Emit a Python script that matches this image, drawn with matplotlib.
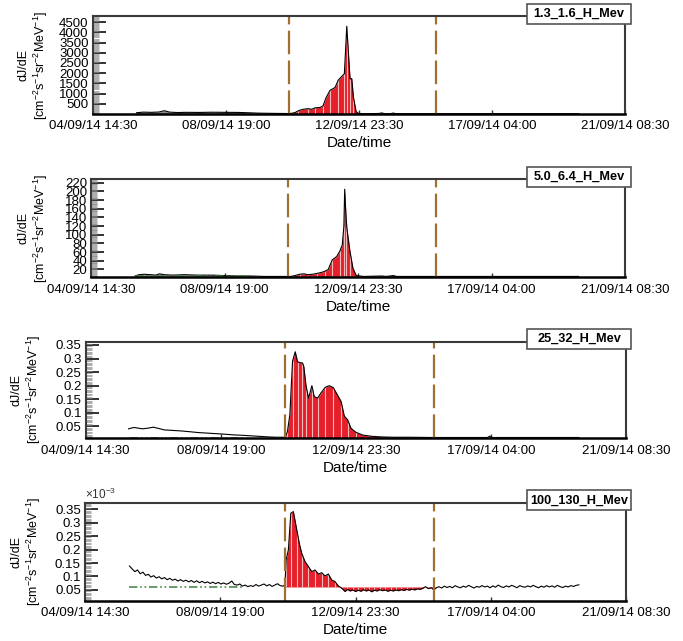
import numpy as np
import matplotlib
matplotlib.use('Agg')
import matplotlib.pyplot as plt
import matplotlib.transforms as mtransforms
from matplotlib.patches import Rectangle
from matplotlib.ticker import MultipleLocator

plt.rcParams['font.family'] = ['Liberation Sans', 'DejaVu Sans']
plt.rcParams['mathtext.fontset'] = 'custom'
plt.rcParams['mathtext.rm'] = 'Liberation Sans'
plt.rcParams['mathtext.it'] = 'Liberation Sans:italic'
plt.rcParams['lines.scale_dashes'] = False

# time axis: hours since 04/09/14 14:30
xtick_hours = [0, 100.5, 201, 301.5, 402]
xtick_labels = ['04/09/14 14:30', '08/09/14 19:00', '12/09/14 23:30',
                '17/09/14 04:00', '21/09/14 08:30']
event_start, event_end = 148.5, 259.5
bg_start, bg_end = 33, 117

channels = ['1.3_1.6_H_Mev', '5.0_6.4_H_Mev', '25_32_H_Mev', '100_130_H_Mev']

# 1.3-1.6 MeV
h1 = [33, 38, 44, 50, 54, 58, 64, 70, 80, 90, 100, 110, 117, 125, 135, 143, 148.5, 150,
      152.8, 155.3, 158.8, 162.6, 165.4, 167.9, 171.7, 173.9, 176.2, 179.2, 183.0, 185.3,
      188.1, 190.0, 190.9, 191.8, 193.1, 194.3, 195.6, 196.8, 198.9, 200.6, 204.2, 210,
      216, 218.3, 220.5, 225, 226.8, 229, 240, 259.5, 270, 300, 330, 367]
f1 = [60, 90, 80, 95, 160, 90, 70, 80, 75, 85, 80, 75, 60, 40, 30, 25, 20, 30,
      70, 160, 230, 260, 230, 300, 320, 400, 800, 1160, 1300, 1650,
      1850, 1970, 3100, 4300, 2950, 1730, 1730, 840, 110, 30, 15, 15,
      25, 50, 15, 15, 45, 15, 15, 15, 15, 15, 15, 15]
bg1 = 20
yticks1 = [500, 1000, 1500, 2000, 2500, 3000, 3500, 4000, 4500]

# 5.0-6.4 MeV
h2 = [33, 36, 40, 45, 48.5, 51.5, 55, 61.4, 70, 80, 90.8, 100, 110, 120, 130, 140,
      148.5, 150.4, 153.5, 157, 160.3, 163, 166.8, 170, 173.2, 176, 178.5, 181.5,
      184.9, 187.2, 189.1, 190.3, 190.9, 191.6, 192.5, 194.8, 197.1, 199.6, 205,
      219.3, 222, 227.6, 230, 259.5, 280, 320, 367]
f2 = [5, 8, 9, 8, 7, 10, 8, 7, 8, 7, 7, 6, 5, 5, 4, 4,
      4, 4, 6, 9, 10, 8, 9, 11, 13, 16, 20, 42,
      50, 62, 77, 120, 205, 160, 116, 63, 23, 6, 4,
      5, 4, 6, 4, 4, 4, 4, 4]
bg2 = 4
yticks2 = [20, 40, 60, 80, 100, 120, 140, 160, 180, 200, 220]

# 25-32 MeV
h3 = [31.9, 35.8, 42.3, 47, 50.4, 53.7, 58.5, 65, 71.6, 78, 84.3, 91, 97.5, 104, 110.4,
      117, 123.5, 130, 136.5, 142, 146.2, 148.5, 150.1, 151.9, 153.9, 155.9, 157.6,
      160.1, 161.3, 162.3, 163.9, 165.8, 168.3, 170.0, 172.5, 175.0, 178.2, 181.2,
      184.2, 187.4, 190.0, 192.4, 194.9, 197.4, 201.1, 206.1, 213.5, 221.0, 228.4,
      240, 258.3, 263, 280, 299, 300.6, 302, 330, 367]
f3 = [0.041, 0.046, 0.041, 0.044, 0.047, 0.043, 0.037, 0.035, 0.033, 0.030, 0.027, 0.025,
      0.023, 0.021, 0.0185, 0.017, 0.015, 0.013, 0.011, 0.010, 0.010, 0.010, 0.031, 0.093,
      0.29, 0.325, 0.288, 0.284, 0.284, 0.27, 0.20, 0.154, 0.20, 0.16, 0.154, 0.173, 0.194,
      0.20, 0.193, 0.165, 0.142, 0.088, 0.074, 0.043, 0.028, 0.018, 0.013, 0.011, 0.010,
      0.010, 0.009, 0.009, 0.009, 0.009, 0.014, 0.009, 0.009, 0.009]
bg3 = 0.008
yticks3 = [0.05, 0.1, 0.15, 0.2, 0.25, 0.3, 0.35]

# 100-130 MeV (x 1e-3)
h4 = [33, 35, 37, 39, 41, 43, 45, 47, 49, 51, 53, 55, 57, 59, 61, 63, 65, 67, 69, 71,
      73, 75, 77, 79, 81, 83, 85, 87, 89, 91, 93, 95, 97, 99, 101, 103, 105, 107, 109, 111,
      113, 115, 117, 119, 121, 123, 125, 127, 129, 131, 133, 135, 137, 139, 141, 143, 145, 147,
      148.6, 149.4, 151.1, 152.9, 154.8, 157.3, 159.2, 161.0, 163.5, 165.9, 168.5, 170.9,
      173.4, 175.9, 178.3, 180.8, 183.3, 185.7, 188.2, 190.8, 193.2, 195, 197, 199, 201, 203,
      205, 207, 209, 211, 213, 215, 217, 219, 221, 223, 225, 227, 229, 231, 233, 235, 237,
      239, 241, 243, 245, 247, 249, 251, 253, 255, 257.6, 259,
      261, 263, 265, 267, 269, 271, 273, 275, 277, 279, 281, 283, 285, 287, 289, 291, 293,
      295, 297, 299, 301, 303, 305, 307, 309, 311, 313, 315, 317, 319, 321, 323, 325, 327,
      329, 331, 333, 335, 337, 339, 341, 343, 345, 347, 349, 351, 353, 355, 357, 359, 361,
      363, 365, 367]
f4 = [.139, .128, .118, .124, .110, .116, .104, .108, .098, .103,
      .094, .099, .091, .096, .088, .093, .086, .090, .083, .088,
      .082, .086, .080, .085, .078, .084, .077, .082, .076, .080,
      .074, .079, .073, .078, .072, .076, .071, .075, .083, .070,
      .068, .072, .064, .068, .062, .066, .063, .070, .064, .068,
      .072, .065, .070, .063, .068, .073, .066, .064,
      .069, .161, .199, .335, .341, .273, .223, .186, .155, .137, .118, .124,
      .109, .114, .102, .109, .087, .081, .065, .056, .044, .052, .046, .050, .044, .049,
      .045, .051, .046, .050, .043, .049, .046, .051, .047, .050, .045, .049, .046, .050,
      .047, .051, .048, .052, .049, .053, .050, .054, .052, .056, .062, .055, .058, .050,
      .058, .062, .057, .064, .059, .063, .058, .066, .061, .058, .064, .060, .067, .062,
      .057, .063, .060, .066, .061, .064, .058, .065, .060, .068, .062, .059, .065, .061,
      .067, .063, .058, .066, .062, .060, .065, .061, .067, .062, .058, .064, .060, .066,
      .061, .065, .060, .067, .062, .059, .064, .061, .066, .063, .067, .069]
bg4 = 0.061
yticks4 = [0.05, 0.1, 0.15, 0.2, 0.25, 0.3, 0.35]

series = [(h1, f1, bg1, yticks1, (0, 4780), True),
          (h2, f2, bg2, yticks2, (2, 228), True),
          (h3, f3, bg3, yticks3, (0.006, 0.362), False),
          (h4, f4, bg4, yticks4, (0.010, 0.373), False)]

# axes boxes in figure fraction
boxes = [[0.1359, 0.8222, 0.7792, 0.1521],
         [0.1335, 0.5674, 0.7816, 0.1529],
         [0.1255, 0.3162, 0.7910, 0.1507],
         [0.1245, 0.0629, 0.7921, 0.1524]]
label_x = [0.0732, 0.0732, 0.0635, 0.0635]

W, H = 683, 641
fig = plt.figure(figsize=(6.83, 6.41), dpi=100)
red = '#e6202a'
brown = '#a26f33'

for i, (h, f, bg, yt, ylim, gray_pre) in enumerate(series):
    ax = fig.add_axes(boxes[i])
    h = np.array(h)
    f = np.array(f)
    in_event = (h >= event_start) & (h <= event_end)

    if gray_pre:
        pre = (h >= bg_start) & (h <= bg_end)
        ax.fill_between(h, f, bg, where=pre, color='0.55', lw=0, interpolate=True)
    ax.fill_between(h, f, bg, where=in_event, color=red, lw=0, interpolate=True)
    ev_idx = np.where(in_event)[0][1::2]
    ax.vlines(h[ev_idx], bg, f[ev_idx], color='#f9cccc', lw=0.8, alpha=0.9)
    ax.plot(h, f, color='black', lw=0.8)
    ax.plot([bg_start, bg_end], [bg, bg], color='#3f7f45', lw=1.1,
            dashes=(6, 2, 1.2, 2, 1.2, 2))
    for t in (event_start, event_end):
        ax.axvline(t, color=brown, lw=1.6, dashes=(17, 4.5))

    ax.set_xlim(0, 402)
    ax.set_ylim(*ylim)
    ax.set_xticks(xtick_hours, xtick_labels)
    ax.set_yticks(yt, [f'{v:g}' for v in yt])
    ax.yaxis.set_minor_locator(MultipleLocator((yt[1] - yt[0]) / 10))
    ax.tick_params(axis='x', which='major', direction='in', length=3, width=1,
                   labelsize=9.5, pad=4.5, color='#333')
    ax.tick_params(axis='x', which='minor', bottom=False)
    ax.tick_params(axis='y', which='major', direction='in', length=9, width=1.4,
                   labelsize=9.5, pad=3, color='#333')
    ax.tick_params(axis='y', which='minor', direction='in', length=4.5, width=0.5,
                   color='0.55')
    for s in ax.spines.values():
        s.set_color('#3a3a3a')
        s.set_linewidth(1.5)
    ax.spines['bottom'].set_color('black')
    ax.spines['bottom'].set_linewidth(1.8)

    ax.set_xlabel('Date/time', fontsize=11, labelpad=3)
    ax.set_ylabel('dJ/dE\n[cm$^{-2}$s$^{-1}$sr$^{-2}$MeV$^{-1}$]', fontsize=9,
                  linespacing=1.2)
    ax.yaxis.set_label_coords(label_x[i], 0.5,
                              transform=mtransforms.blended_transform_factory(
                                  fig.transFigure, ax.transAxes))

    # channel name box, same size for every panel, straddling the top spine
    top = boxes[i][1] + boxes[i][3]
    yc = top + 2.5 / H
    fig.add_artist(Rectangle((527 / W, yc - 10 / H), 104 / W, 20 / H,
                             transform=fig.transFigure, facecolor='white',
                             edgecolor='#555', lw=1.2, zorder=10))
    fig.text(579 / W, yc, channels[i], ha='center', va='center', fontsize=9.2,
             fontweight='bold', zorder=11)
    if i == 3:
        ax.text(0.0, 1.01, r'$\times$10$^{-3}$', transform=ax.transAxes, ha='left',
                va='bottom', fontsize=8.5, color='#333')

fig.savefig('out.png', dpi=100)
